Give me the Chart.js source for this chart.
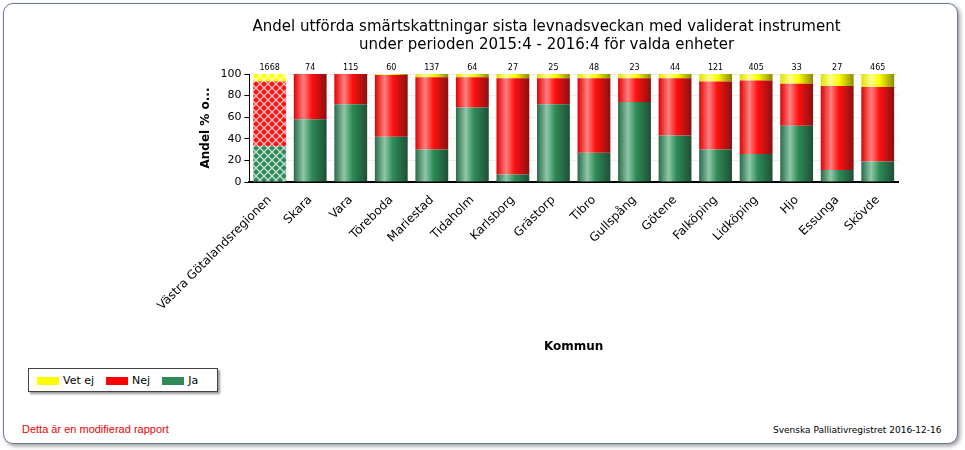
<!DOCTYPE html>
<html><head><meta charset="utf-8">
<script src="https://cdn.jsdelivr.net/npm/chart.js@4/dist/chart.umd.min.js"></script>
<style>
body{margin:0;background:#fff;font-family:"DejaVu Sans",sans-serif;}
#frame{position:absolute;left:3px;top:3px;width:953px;height:439px;border:1px solid #6b7c99;border-radius:10px;box-shadow:2px 2px 4px #999;background:#fff;}
#wrap{position:absolute;left:0;top:0;width:965px;height:358px;}
#legend{position:absolute;left:28px;top:368px;width:190px;height:24px;border:1px solid #444;box-shadow:2px 2px 2px #999;font-size:11px;display:flex;align-items:center;gap:12px;padding-left:8px;box-sizing:border-box;background:#fff}
#legend span i{display:inline-block;width:22px;height:8px;margin-right:4px;vertical-align:middle}
#mod{position:absolute;left:22px;top:423px;color:#e00;font-size:11px;font-family:"Liberation Sans",sans-serif}
#src{position:absolute;left:773px;top:425px;font-size:9px;font-family:"DejaVu Sans",sans-serif}
</style></head><body>
<div id="frame"></div>
<div id="wrap"><canvas id="c"></canvas></div>
<div id="legend"><span><i style="background:#ffff00"></i>Vet ej</span><span><i style="background:#ff0000"></i>Nej</span><span><i style="background:#2e8b57"></i>Ja</span></div>
<div id="mod">Detta är en modifierad rapport</div>
<div id="src">Svenska Palliativregistret 2016-12-16</div>
<script>
const categories = ['Västra Götalandsregionen','Skara','Vara','Töreboda','Mariestad','Tidaholm','Karlsborg','Grästorp','Tibro','Gullspång','Götene','Falköping','Lidköping','Hjo','Essunga','Skövde'];
const counts = [1668,74,115,60,137,64,27,25,48,23,44,121,405,33,27,465];
const ja = [33,58,72,42,30,69,7,72,27,74,43,30,26,52,11,19];
const nej = [60,42,28,57,67,28,89,24,69,22,53,63,68,39,78,69];
const vetEj = [7,0,0,1,3,3,4,4,4,4,4,7,6,9,11,12];
const yTicks = [0,20,40,60,80,100];

const shades = {
  ja: ['#2a6a48','#8fc8a8','#2e8b57','#1f4f36'],
  nej: ['#e00000','#ff8080','#ff1010','#8a1010'],
  vet: ['#e0e000','#ffff90','#ffff00','#8a8a00']
};

function fill(key) {
  return ctx => {
    const chart = ctx.chart;
    const xs = chart.scales.x;
    if (!xs || !chart.chartArea) return shades[key][2];
    const cx = xs.getPixelForValue(ctx.dataIndex);
    const w = 33;
    const c = chart.ctx;
    const s = shades[key];
    if (ctx.dataIndex === 0) {
      const p = document.createElement('canvas');
      p.width = 8; p.height = 8;
      const pc = p.getContext('2d');
      pc.fillStyle = s[2]; pc.fillRect(0,0,8,8);
      pc.strokeStyle = 'rgba(255,255,255,0.75)'; pc.lineWidth = 1.3;
      pc.beginPath(); pc.moveTo(0,0); pc.lineTo(8,8); pc.moveTo(8,0); pc.lineTo(0,8); pc.stroke();
      return c.createPattern(p, 'repeat');
    }
    const g = c.createLinearGradient(cx - w/2, 0, cx + w/2, 0);
    g.addColorStop(0, s[0]); g.addColorStop(0.3, s[1]); g.addColorStop(0.55, s[2]); g.addColorStop(1, s[3]);
    return g;
  };
}

const countLabels = {
  id: 'countLabels',
  afterDatasetsDraw(chart) {
    const c = chart.ctx, xs = chart.scales.x, ys = chart.scales.y;
    c.save(); c.font = '8px "DejaVu Sans"'; c.fillStyle = '#000'; c.textAlign = 'center';
    counts.forEach((n, i) => c.fillText(n, xs.getPixelForValue(i), ys.getPixelForValue(100) - 4));
    c.restore();
  }
};

new Chart(document.getElementById('c'), {
  type: 'bar',
  data: {
    labels: categories,
    datasets: [
      { label: 'Ja', data: ja, backgroundColor: fill('ja') },
      { label: 'Nej', data: nej, backgroundColor: fill('nej') },
      { label: 'Vet ej', data: vetEj, backgroundColor: fill('vet') }
    ]
  },
  options: {
    responsive: true, maintainAspectRatio: false, animation: false,
    layout: { padding: { left: 195, right: 67, top: 6 } },
    datasets: { bar: { barPercentage: 0.81, categoryPercentage: 1 } },
    plugins: {
      legend: { display: false }, tooltip: { enabled: false },
      title: { display: true, text: ['Andel utförda smärtskattningar sista levnadsveckan med validerat instrument', 'under perioden 2015:4 - 2016:4 för valda enheter'],
        color: '#000', font: { family: 'DejaVu Sans', size: 15, weight: 'normal', lineHeight: 1.2 }, padding: { top: 12, bottom: 20 } }
    },
    scales: {
      x: { stacked: true, grid: { display: false }, border: { color: '#000', width: 2 },
        ticks: { color: '#000', font: { family: 'DejaVu Sans', size: 12 }, minRotation: 45, maxRotation: 45, autoSkip: false },
        title: { display: true, text: 'Kommun', color: '#000', font: { family: 'DejaVu Sans', size: 12, weight: 'bold' }, padding: { top: 25 } } },
      y: { stacked: true, min: 0, max: 100, afterBuildTicks: a => { a.ticks = yTicks.map(v => ({ value: v })); },
        grid: { color: '#eee', drawTicks: true, tickColor: '#000', tickLength: 5 }, border: { color: '#000' },
        ticks: { color: '#000', font: { family: 'DejaVu Sans', size: 11 } },
        title: { display: true, text: 'Andel % o...', color: '#000', font: { family: 'DejaVu Sans', size: 12, weight: 'bold' } } }
    }
  },
  plugins: [countLabels]
});
</script>
</body></html>
